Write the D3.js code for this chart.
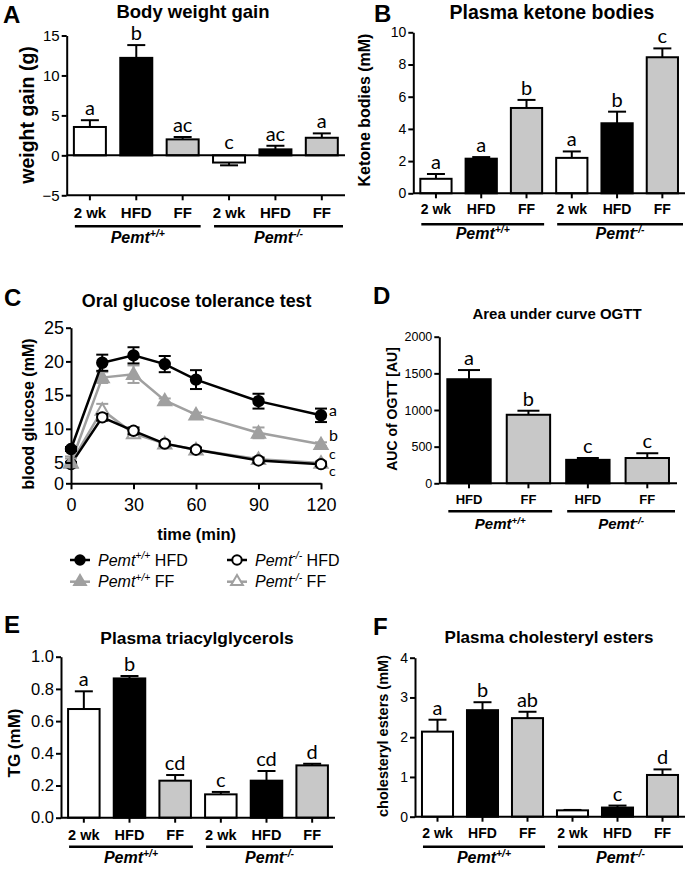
<!DOCTYPE html>
<html><head><meta charset="utf-8">
<script src="https://cdn.jsdelivr.net/npm/d3@7"></script>
<style>body{margin:0;background:#fff}svg{display:block}</style>
</head><body>
<svg id="c" width="691" height="871"></svg>
<script>
// ---------- DATA ----------
const cats6 = ["2 wk","HFD","FF","2 wk","HFD","FF"];
const cats4 = ["HFD","FF","HFD","FF"];
const fills6 = ["#ffffff","#000000","#c8c8c8","#ffffff","#000000","#c8c8c8"];
const fills4 = ["#000000","#c8c8c8","#000000","#c8c8c8"];
const groupNames = ["+/+","-/-"];

const weightGain = [3.55, 12.2, 2.0, -0.9, 0.75, 2.2];
const weightGainErr = [0.85, 1.6, 0.3, 0.35, 0.45, 0.55];
const weightGainLetters = ["a","b","ac","c","ac","a"];
const weightTicks = [-5,0,5,10,15];

const ketone = [0.9, 2.15, 5.3, 2.2, 4.35, 8.45];
const ketoneErr = [0.3, 0.1, 0.5, 0.4, 0.72, 0.55];
const ketoneLetters = ["a","a","b","a","b","c"];
const ketoneTicks = [0,2,4,6,8,10];

const auc = [1420, 935, 320, 345];
const aucErr = [125, 55, 25, 65];
const aucLetters = ["a","b","c","c"];
const aucTicks = [0,500,1000,1500,2000];

const tg = [0.675, 0.865, 0.23, 0.145, 0.23, 0.325];
const tgErr = [0.11, 0.015, 0.035, 0.015, 0.06, 0.01];
const tgLetters = ["a","b","cd","c","cd","d"];
const tgTicks = [0,0.2,0.4,0.6,0.8,1.0];

const ce = [2.14, 2.68, 2.48, 0.16, 0.23, 1.05];
const ceErr = [0.3, 0.2, 0.16, 0.01, 0.05, 0.14];
const ceLetters = ["a","b","ab","","c","d"];
const ceTicks = [0,1,2,3,4];

const ogttTimes = [0,15,30,45,60,90,120];
const ogttTimeTicks = [0,30,60,90,120];
const ogttGlucoseTicks = [0,5,10,15,20,25];
const wtHFD = [7.0, 19.8, 20.9, 19.6, 17.3, 14.1, 12.0];
const wtHFDErr = [0.3, 1.2, 1.2, 1.2, 1.4, 1.1, 1.0];
const wtFF = [5.0, 17.6, 18.1, 14.2, 12.1, 9.4, 7.7];
const wtFFErr = [0.6, 0.8, 1.3, 0.3, 0.3, 0.8, 0.3];
const koHFD = [4.6, 11.7, 9.7, 7.8, 6.9, 5.3, 4.6];
const koHFDErr = [0.5, 0.5, 0.5, 0.3, 0.3, 0.4, 0.4];
const koFF = [4.9, 12.8, 9.3, 7.8, 6.9, 5.5, 4.9];
const koFFErr = [1.0, 0.9, 0.6, 0.3, 0.3, 0.3, 0.3];
const ogttLetters = ["a","b","c","c"];
const ogttLetterLevels = [12.5, 8.8, 6.1, 2.7];

// ---------- DRAWING ----------
const svg = d3.select("#c");
const FONT = "'Liberation Sans', Arial, Helvetica, sans-serif";
const LFONT = "Lato, 'Open Sans', sans-serif";
const GRAY = "#a0a0a0";

function txt(g, x, y, s, size, opts={}) {
  return g.append("text").attr("x", x).attr("y", y).text(s)
    .attr("font-family", opts.family || FONT).attr("font-size", size)
    .attr("font-weight", opts.weight || "normal")
    .attr("font-style", opts.style || "normal")
    .attr("text-anchor", opts.anchor || "start")
    .attr("fill", opts.fill || "#000");
}
function pemt(g, x, y, sup, size, opts={}) {
  const t = g.append("text").attr("x", x).attr("y", y)
    .attr("font-family", FONT).attr("font-size", size)
    .attr("font-weight", opts.weight || "bold").attr("font-style", "italic")
    .attr("text-anchor", opts.anchor || "middle").attr("fill", opts.fill || "#000");
  t.append("tspan").text("Pemt");
  t.append("tspan").text(sup).attr("font-size", size * 0.65).attr("dy", -size * 0.38);
  if (opts.suffix) t.append("tspan").text(opts.suffix).attr("font-style","normal").attr("font-weight","normal").attr("dy", size*0.38);
  return t;
}
function yTitle(g, x, y, s, size) {
  g.append("text").attr("transform", `translate(${x},${y}) rotate(-90)`)
    .attr("text-anchor","middle").attr("font-family", FONT).attr("font-weight","bold")
    .attr("font-size", size).text(s);
}
function styleAxis(sel, fs) {
  sel.selectAll("path.domain").attr("stroke","#000").attr("stroke-width",2);
  sel.selectAll(".tick line").attr("stroke","#000").attr("stroke-width",2);
  sel.selectAll(".tick text").attr("font-family", FONT).attr("font-size", fs).attr("fill","#000");
}

function barPanel(o) {
  const g = svg.append("g");
  const n = o.values.length;
  const x = d3.scaleBand().domain(d3.range(n)).range([o.x0, o.x1]).paddingInner(o.pad).paddingOuter(o.pad / 2);
  const y = d3.scaleLinear().domain(o.domain).range([o.yBot, o.yTop]);
  const bw = x.bandwidth();
  g.selectAll("rect.bar").data(o.values).join("rect")
    .attr("x", (d,i) => x(i)).attr("width", bw)
    .attr("y", d => y(Math.max(0,d))).attr("height", d => Math.abs(y(d) - y(0)))
    .attr("fill", (d,i) => o.fills[i]).attr("stroke","#000").attr("stroke-width",2);
  o.values.forEach((v,i) => {
    const s = v < 0 ? -1 : 1;
    const cx = x(i) + bw/2, e = y(v + s*o.err[i]);
    g.append("line").attr("x1",cx).attr("x2",cx).attr("y1",y(v)).attr("y2",e).attr("stroke","#000").attr("stroke-width",2);
    g.append("line").attr("x1",cx-o.cap/2).attr("x2",cx+o.cap/2).attr("y1",e).attr("y2",e).attr("stroke","#000").attr("stroke-width",2);
    if (o.letters[i]) {
      const ly = v < 0 ? y(0) - 6 : e - 5;
      txt(g, cx, ly, o.letters[i], o.letterSize, {family: LFONT, anchor:"middle"});
    }
  });
  const ya = g.append("g").attr("transform", `translate(${o.x0},0)`)
    .call(d3.axisLeft(y).tickValues(o.ticks).tickSize(5).tickSizeOuter(0).tickPadding(2).tickFormat(o.fmt || d3.format("d")));
  styleAxis(ya, o.tickSize);
  const xa = g.append("g").attr("transform", `translate(0,${y(o.domain[0])})`)
    .call(d3.axisBottom(x).tickSize(5).tickSizeOuter(0).tickPadding(o.catPad).tickFormat(i => o.cats[i]));
  styleAxis(xa, o.catSize);
  xa.selectAll(".tick text").attr("font-weight","bold");
  xa.select("path.domain").attr("d", `M${o.x0},0H${o.x1}`);
  if (o.domain[0] < 0) g.append("line").attr("x1",o.x0).attr("x2",o.x1).attr("y1",y(0)).attr("y2",y(0)).attr("stroke","#000").attr("stroke-width",2);
  const half = n/2;
  [0,1].forEach(k => {
    const a = x(k*half) + 1, b = (k===1 ? o.x1 - 2 : x(k*half+half-1) + bw + 2);
    const uy = y(o.domain[0]) + o.ulOff;
    g.append("line").attr("x1",a).attr("x2",b).attr("y1",uy).attr("y2",uy).attr("stroke","#000").attr("stroke-width",2.5);
    pemt(g, (a+b)/2, uy + o.glOff, groupNames[k], o.groupSize);
  });
  txt(g, o.titleX, o.titleY, o.title, o.titleSize, {weight:"bold", anchor:"middle"});
  txt(g, o.letterX, o.letterY, o.panel, 24, {weight:"bold"});
  yTitle(g, o.yTitleX, o.yTitleY, o.yTitle, o.yTitleSize);
}

barPanel({values: weightGain, err: weightGainErr, letters: weightGainLetters, cats: cats6, fills: fills6,
  x0: 66.7, x1: 345, pad: 0.31, domain: [-5,15], yBot: 195.3, yTop: 35.5, ticks: weightTicks,
  tickSize: 15, catSize: 15, catPad: 7, cap: 18, letterSize: 20, ulOff: 31, glOff: 17, groupSize: 16,
  title: "Body weight gain", titleX: 193, titleY: 18, titleSize: 18.5, panel: "A", letterX: 3, letterY: 23,
  yTitle: "weight gain (g)", yTitleX: 34, yTitleY: 115, yTitleSize: 19.5});

barPanel({values: ketone, err: ketoneErr, letters: ketoneLetters, cats: cats6, fills: fills6,
  x0: 413.3, x1: 685, pad: 0.31, domain: [0,10], yBot: 193.3, yTop: 32.3, ticks: ketoneTicks,
  tickSize: 14, catSize: 14, catPad: 6, cap: 18, letterSize: 20, ulOff: 31, glOff: 15, groupSize: 16,
  title: "Plasma ketone bodies", titleX: 552, titleY: 19, titleSize: 19.5, panel: "B", letterX: 374, letterY: 22,
  yTitle: "Ketone bodies (mM)", yTitleX: 370, yTitleY: 110, yTitleSize: 16});

barPanel({values: auc, err: aucErr, letters: aucLetters, cats: cats4, fills: fills4,
  x0: 439.3, x1: 677, pad: 0.27, domain: [0,2000], yBot: 483.3, yTop: 336.7, ticks: aucTicks,
  tickSize: 12.5, catSize: 13, catPad: 6, cap: 22, letterSize: 20, ulOff: 28, glOff: 18, groupSize: 15,
  title: "Area under curve OGTT", titleX: 557, titleY: 319, titleSize: 15, panel: "D", letterX: 373, letterY: 304,
  yTitle: "AUC of OGTT [AU]", yTitleX: 397, yTitleY: 409, yTitleSize: 14});

barPanel({values: tg, err: tgErr, letters: tgLetters, cats: cats6, fills: fills6,
  x0: 61, x1: 335, pad: 0.31, domain: [0,1], yBot: 817.7, yTop: 656.7, ticks: tgTicks, fmt: d3.format(".1f"),
  tickSize: 16.5, catSize: 14.5, catPad: 7, cap: 18, letterSize: 20, ulOff: 29, glOff: 16, groupSize: 16,
  title: "Plasma triacylglycerols", titleX: 197, titleY: 644, titleSize: 17.4, panel: "E", letterX: 4, letterY: 633,
  yTitle: "TG (mM)", yTitleX: 20, yTitleY: 743, yTitleSize: 17});

barPanel({values: ce, err: ceErr, letters: ceLetters, cats: cats6, fills: fills6,
  x0: 415, x1: 685, pad: 0.31, domain: [0,4], yBot: 816.7, yTop: 657.7, ticks: ceTicks,
  tickSize: 14, catSize: 14, catPad: 6, cap: 18, letterSize: 20, ulOff: 30, glOff: 16, groupSize: 16,
  title: "Plasma cholesteryl esters", titleX: 549, titleY: 643, titleSize: 17, panel: "F", letterX: 373, letterY: 635,
  yTitle: "cholesteryl esters (mM)", yTitleX: 388, yTitleY: 736, yTitleSize: 14.5});

// ---------- Panel C: OGTT ----------
(function(){
  const g = svg.append("g");
  const x = d3.scaleLinear().domain([0,120]).range([71, 321]);
  const y = d3.scaleLinear().domain([0,5,25]).range([483.3, 462.5, 327.7]);
  const series = [
    {v: koFF, e: koFFErr, color: GRAY, sym: d3.symbolTriangle, fill: "#fff"},
    {v: koHFD, e: koHFDErr, color: "#000", sym: d3.symbolCircle, fill: "#fff"},
    {v: wtFF, e: wtFFErr, color: GRAY, sym: d3.symbolTriangle, fill: GRAY},
    {v: wtHFD, e: wtHFDErr, color: "#000", sym: d3.symbolCircle, fill: "#000"}
  ];
  const line = d3.line().x((d,i) => x(ogttTimes[i])).y(d => y(d));
  series.forEach(s => {
    g.append("path").attr("d", line(s.v)).attr("fill","none").attr("stroke", s.color).attr("stroke-width", 2.5);
    s.v.forEach((v,i) => {
      const cx = x(ogttTimes[i]), a = y(v - s.e[i]), b = y(v + s.e[i]);
      g.append("line").attr("x1",cx).attr("x2",cx).attr("y1",a).attr("y2",b).attr("stroke",s.color).attr("stroke-width",2);
      [a,b].forEach(yy => g.append("line").attr("x1",cx-6).attr("x2",cx+6).attr("y1",yy).attr("y2",yy).attr("stroke",s.color).attr("stroke-width",2));
    });
    g.selectAll(null).data(s.v).join("path")
      .attr("d", d3.symbol().type(s.sym).size(s.sym === d3.symbolCircle ? 85 : 75))
      .attr("transform", (d,i) => `translate(${x(ogttTimes[i])},${y(d) + (s.sym === d3.symbolTriangle ? 1 : 0)})`)
      .attr("fill", s.fill).attr("stroke", s.color).attr("stroke-width", 2);
  });
  const ya = g.append("g").attr("transform","translate(71,0)")
    .call(d3.axisLeft(y).tickValues(ogttGlucoseTicks).tickSize(5).tickSizeOuter(0).tickPadding(2));
  styleAxis(ya, 18);
  const xa = g.append("g").attr("transform","translate(0,483.3)")
    .call(d3.axisBottom(x).tickValues(ogttTimeTicks).tickSize(6).tickSizeOuter(0).tickPadding(9));
  styleAxis(xa, 18);
  ogttLetters.forEach((l,i) => txt(g, 329, y(ogttLetterLevels[i]) + 4, l, i < 2 ? 16 : 14, {family: LFONT}));
  txt(g, 196.7, 540, "time (min)", 16.5, {weight:"bold", anchor:"middle"});
  txt(g, 196.7, 307, "Oral glucose tolerance test", 17.9, {weight:"bold", anchor:"middle"});
  txt(g, 4, 306, "C", 24, {weight:"bold"});
  yTitle(g, 34, 414, "blood glucose (mM)", 16);
  const leg = [
    {x: 70, y: 560, color:"#000", sym: d3.symbolCircle, fill:"#000", sup:"+/+", lab:" HFD"},
    {x: 227, y: 560, color:"#000", sym: d3.symbolCircle, fill:"#fff", sup:"-/-", lab:" HFD"},
    {x: 70, y: 581.7, color:GRAY, sym: d3.symbolTriangle, fill:GRAY, sup:"+/+", lab:" FF"},
    {x: 227, y: 581.7, color:GRAY, sym: d3.symbolTriangle, fill:"#fff", sup:"-/-", lab:" FF"}
  ];
  leg.forEach(d => {
    g.append("line").attr("x1",d.x).attr("x2",d.x+20).attr("y1",d.y).attr("y2",d.y).attr("stroke",d.color).attr("stroke-width",2.5);
    g.append("path").attr("d", d3.symbol().type(d.sym).size(d.sym===d3.symbolCircle?70:60)())
      .attr("transform",`translate(${d.x+10},${d.y})`).attr("fill",d.fill).attr("stroke",d.color).attr("stroke-width",2);
    pemt(g, d.x+28, d.y+5.5, d.sup, 16, {weight:"normal", anchor:"start", suffix: d.lab});
  });
})();
</script>
</body></html>
